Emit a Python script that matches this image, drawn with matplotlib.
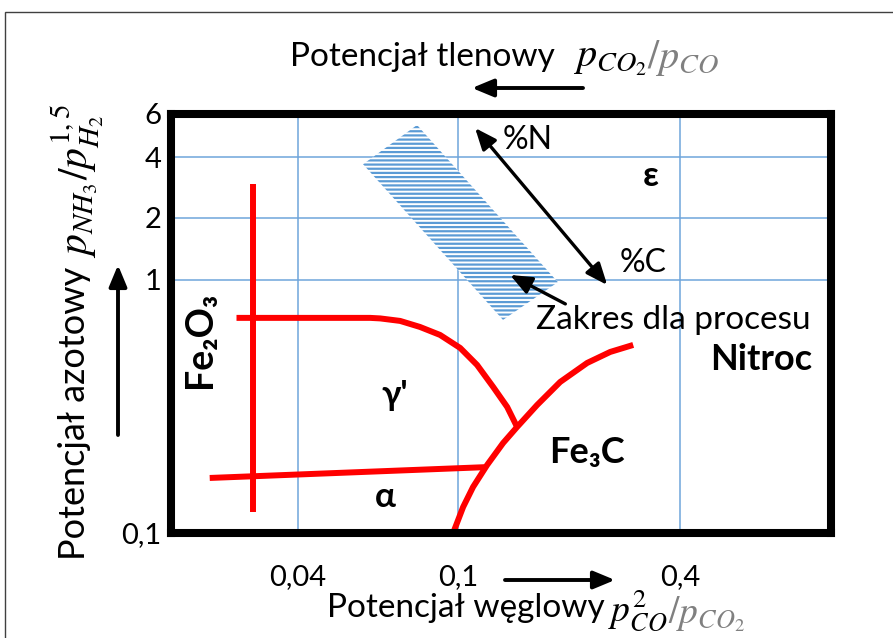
import numpy as np
import matplotlib
matplotlib.use('Agg')
import matplotlib.pyplot as plt
from matplotlib.patches import Polygon, Rectangle
from matplotlib.text import Annotation

plt.rcParams['font.family'] = ['Lato', 'DejaVu Sans']
plt.rcParams['mathtext.fontset'] = 'stix'
plt.rcParams['hatch.linewidth'] = 1.6

# ticks
x_ticks = [0.04, 0.1, 0.4]
x_tick_labels = ['0,04', '0,1', '0,4']
y_ticks = [0.1, 1, 2, 4, 6]
y_tick_labels = ['0,1', '1', '2', '4', '6']

# the diagram uses uneven log axes -> anchor values and their relative place on the axis
x_anchor_val = [0.0194, 0.04, 0.1, 0.4, 1.03]
x_anchor_pos = [0.0, 0.192, 0.435, 0.771, 1.0]
y_anchor_val = [0.1, 1, 2, 4, 6]
y_anchor_pos = [0.0, 0.604, 0.752, 0.897, 1.0]

# phase boundaries
fe2o3_x = [0.031, 0.031]
fe2o3_y = [0.121, 2.94]
gamma_x = [0.0282, 0.0605, 0.0641, 0.0718, 0.0804, 0.0902, 0.1013, 0.1126, 0.1245, 0.1359, 0.1446]
gamma_y = [0.708, 0.708, 0.7045, 0.6887, 0.652, 0.6062, 0.5385, 0.4613, 0.3777, 0.3148, 0.2624]
fe3c_x = [0.0972, 0.1032, 0.1098, 0.1199, 0.1325, 0.1446, 0.1639, 0.1893, 0.2241, 0.2588, 0.2988]
fe3c_y = [0.1, 0.1267, 0.152, 0.1857, 0.2268, 0.2624, 0.3206, 0.3952, 0.4699, 0.5193, 0.5535]
alpha_x = [0.0242, 0.118]
alpha_y = [0.165, 0.182]

# process window (Nitroc)
zone_x = [0.0791, 0.1866, 0.1324, 0.0581]
zone_y = [5.41, 0.98, 0.695, 3.69]

# arrows (%N <-> %C, pointer to window)
nc_x = [0.1112, 0.254]
nc_y = [5.26, 0.955]
ptr_x = [0.1955, 0.1384]
ptr_y = [0.804, 1.057]

xl = np.log10(x_anchor_val)
yl = np.log10(y_anchor_val)

def fx(v):
    return np.interp(np.log10(np.clip(v, 1e-9, None)), xl, x_anchor_pos)

def ifx(u):
    return 10 ** np.interp(u, x_anchor_pos, xl)

def fy(v):
    return np.interp(np.log10(np.clip(v, 1e-9, None)), yl, y_anchor_pos)

def ify(u):
    return 10 ** np.interp(u, y_anchor_pos, yl)


fig = plt.figure(figsize=(8.93, 6.38), dpi=100)
ax = fig.add_axes([171/893, 1-533/638, 660/893, 419/638])
ax.set_xscale('function', functions=(fx, ifx))
ax.set_yscale('function', functions=(fy, ify))
ax.set_xlim(x_anchor_val[0], x_anchor_val[-1])
ax.set_ylim(y_anchor_val[0], y_anchor_val[-1])

ax.set_xticks(x_ticks, x_tick_labels)
ax.set_yticks(y_ticks, y_tick_labels)
ax.minorticks_off()
ax.tick_params(axis='both', length=0, labelsize=21)
ax.tick_params(axis='x', pad=22)
ax.tick_params(axis='y', pad=7)
ax.set_axisbelow(True)
ax.grid(True, color='#6FA5DB', lw=1.1)

for s in ax.spines.values():
    s.set_linewidth(5.8)
    s.set_capstyle('projecting')
    s.set_zorder(5)

zone = Polygon(np.column_stack([zone_x, zone_y]), closed=True, facecolor='white',
               edgecolor='#5B9BD5', lw=0, hatch='----', zorder=2)
ax.add_patch(zone)

red = dict(color='#FF0000', lw=4.3, solid_capstyle='butt', solid_joinstyle='round', zorder=3)
ax.plot(fe2o3_x, fe2o3_y, **red)
ax.plot(gamma_x, gamma_y, **red)
ax.plot(fe3c_x, fe3c_y, **red)
ax.plot(alpha_x, alpha_y, **red)

ax.annotate('', xy=(nc_x[1], nc_y[1]), xytext=(nc_x[0], nc_y[0]),
            arrowprops=dict(arrowstyle='<|-|>,head_length=0.65,head_width=0.27',
                            color='black', lw=2.4, mutation_scale=20, shrinkA=0, shrinkB=0), zorder=4)
ax.annotate('', xy=(ptr_x[1], ptr_y[1]), xytext=(ptr_x[0], ptr_y[0]),
            arrowprops=dict(arrowstyle='-|>,head_length=0.65,head_width=0.27',
                            color='black', lw=2.4, mutation_scale=20, shrinkA=0, shrinkB=0), zorder=4)

# labels inside
tr = ax.transAxes
ax.text(0.541, 0.938, '%N', transform=tr, fontsize=23, ha='center', va='center')
ax.text(0.715, 0.644, '%C', transform=tr, fontsize=23, ha='center', va='center')
ax.text(0.727, 0.852, 'ε', transform=tr, fontsize=25, fontweight='bold', ha='center', va='center')
ax.text(0.553, 0.508, 'Zakres dla procesu', transform=tr, fontsize=24, ha='left', va='center')
ax.text(0.972, 0.413, 'Nitroc', transform=tr, fontsize=26, fontweight='bold', ha='right', va='center')
ax.text(0.339, 0.329, "γ'", transform=tr, fontsize=25, fontweight='bold', ha='center', va='center')
ax.text(0.630, 0.191, 'Fe₃C', transform=tr, fontsize=26, fontweight='bold', ha='center', va='center')
ax.text(0.324, 0.086, 'α', transform=tr, fontsize=25, fontweight='bold', ha='center', va='center')
ax.text(0.044, 0.461, 'Fe₂O₃', transform=tr, fontsize=27, fontweight='bold', ha='center', va='center',
        rotation=90)

# axis titles outside
fig.text(290/893, 1-57/638, 'Potencjał tlenowy', fontsize=24, ha='left', va='center')
m1 = fig.text(573/893, 1-59/638, r'$p_{CO_2}$', fontsize=29, ha='left', va='center')
ax.annotate(r'$/p_{CO}$', xy=(1, 0), xycoords=m1, xytext=(0, 0), textcoords='offset points',
            fontsize=29, color='#808080', ha='left', va='bottom', annotation_clip=False)

fig.text(327/893, 1-608/638, 'Potencjał węglowy', fontsize=24, ha='left', va='center')
m2 = fig.text(608/893, 1-611/638, r'$p_{CO}^{2}$', fontsize=27, ha='left', va='center')
ax.annotate(r'$/p_{CO_2}$', xy=(1, 0), xycoords=m2, xytext=(0, 0), textcoords='offset points',
            fontsize=27, color='#808080', ha='left', va='bottom', annotation_clip=False)

t3 = fig.text(75/893, 1-560/638, 'Potencjał azotowy ', fontsize=26, rotation=90, ha='center', va='bottom')
ax.annotate(r'$p_{NH_3}/p_{H_2}^{1,5}$', xy=(0.5, 1), xycoords=t3, xytext=(2, 0),
            textcoords='offset points', fontsize=30, rotation=90, ha='center', va='bottom',
            annotation_clip=False)

arr = dict(arrowstyle='-|>,head_length=0.65,head_width=0.27', color='black', lw=2.8,
           mutation_scale=20, shrinkA=0, shrinkB=0)
fig.add_artist(Annotation('', xy=(472/893, 1-88/638), xytext=(583/893, 1-88/638),
                          xycoords='figure fraction', arrowprops=arr))
fig.add_artist(Annotation('', xy=(615/893, 1-580/638), xytext=(505/893, 1-580/638),
                          xycoords='figure fraction', arrowprops=arr))
fig.add_artist(Annotation('', xy=(118/893, 1-265/638), xytext=(118/893, 1-435/638),
                          xycoords='figure fraction', arrowprops=arr))

# thin frame round the picture
fig.add_artist(Rectangle((5/893, -0.1), 1.2, 1.1-12/638, transform=fig.transFigure,
                         fill=False, lw=1.0, ec='#404040'))

fig.savefig('out.png', dpi=100)
